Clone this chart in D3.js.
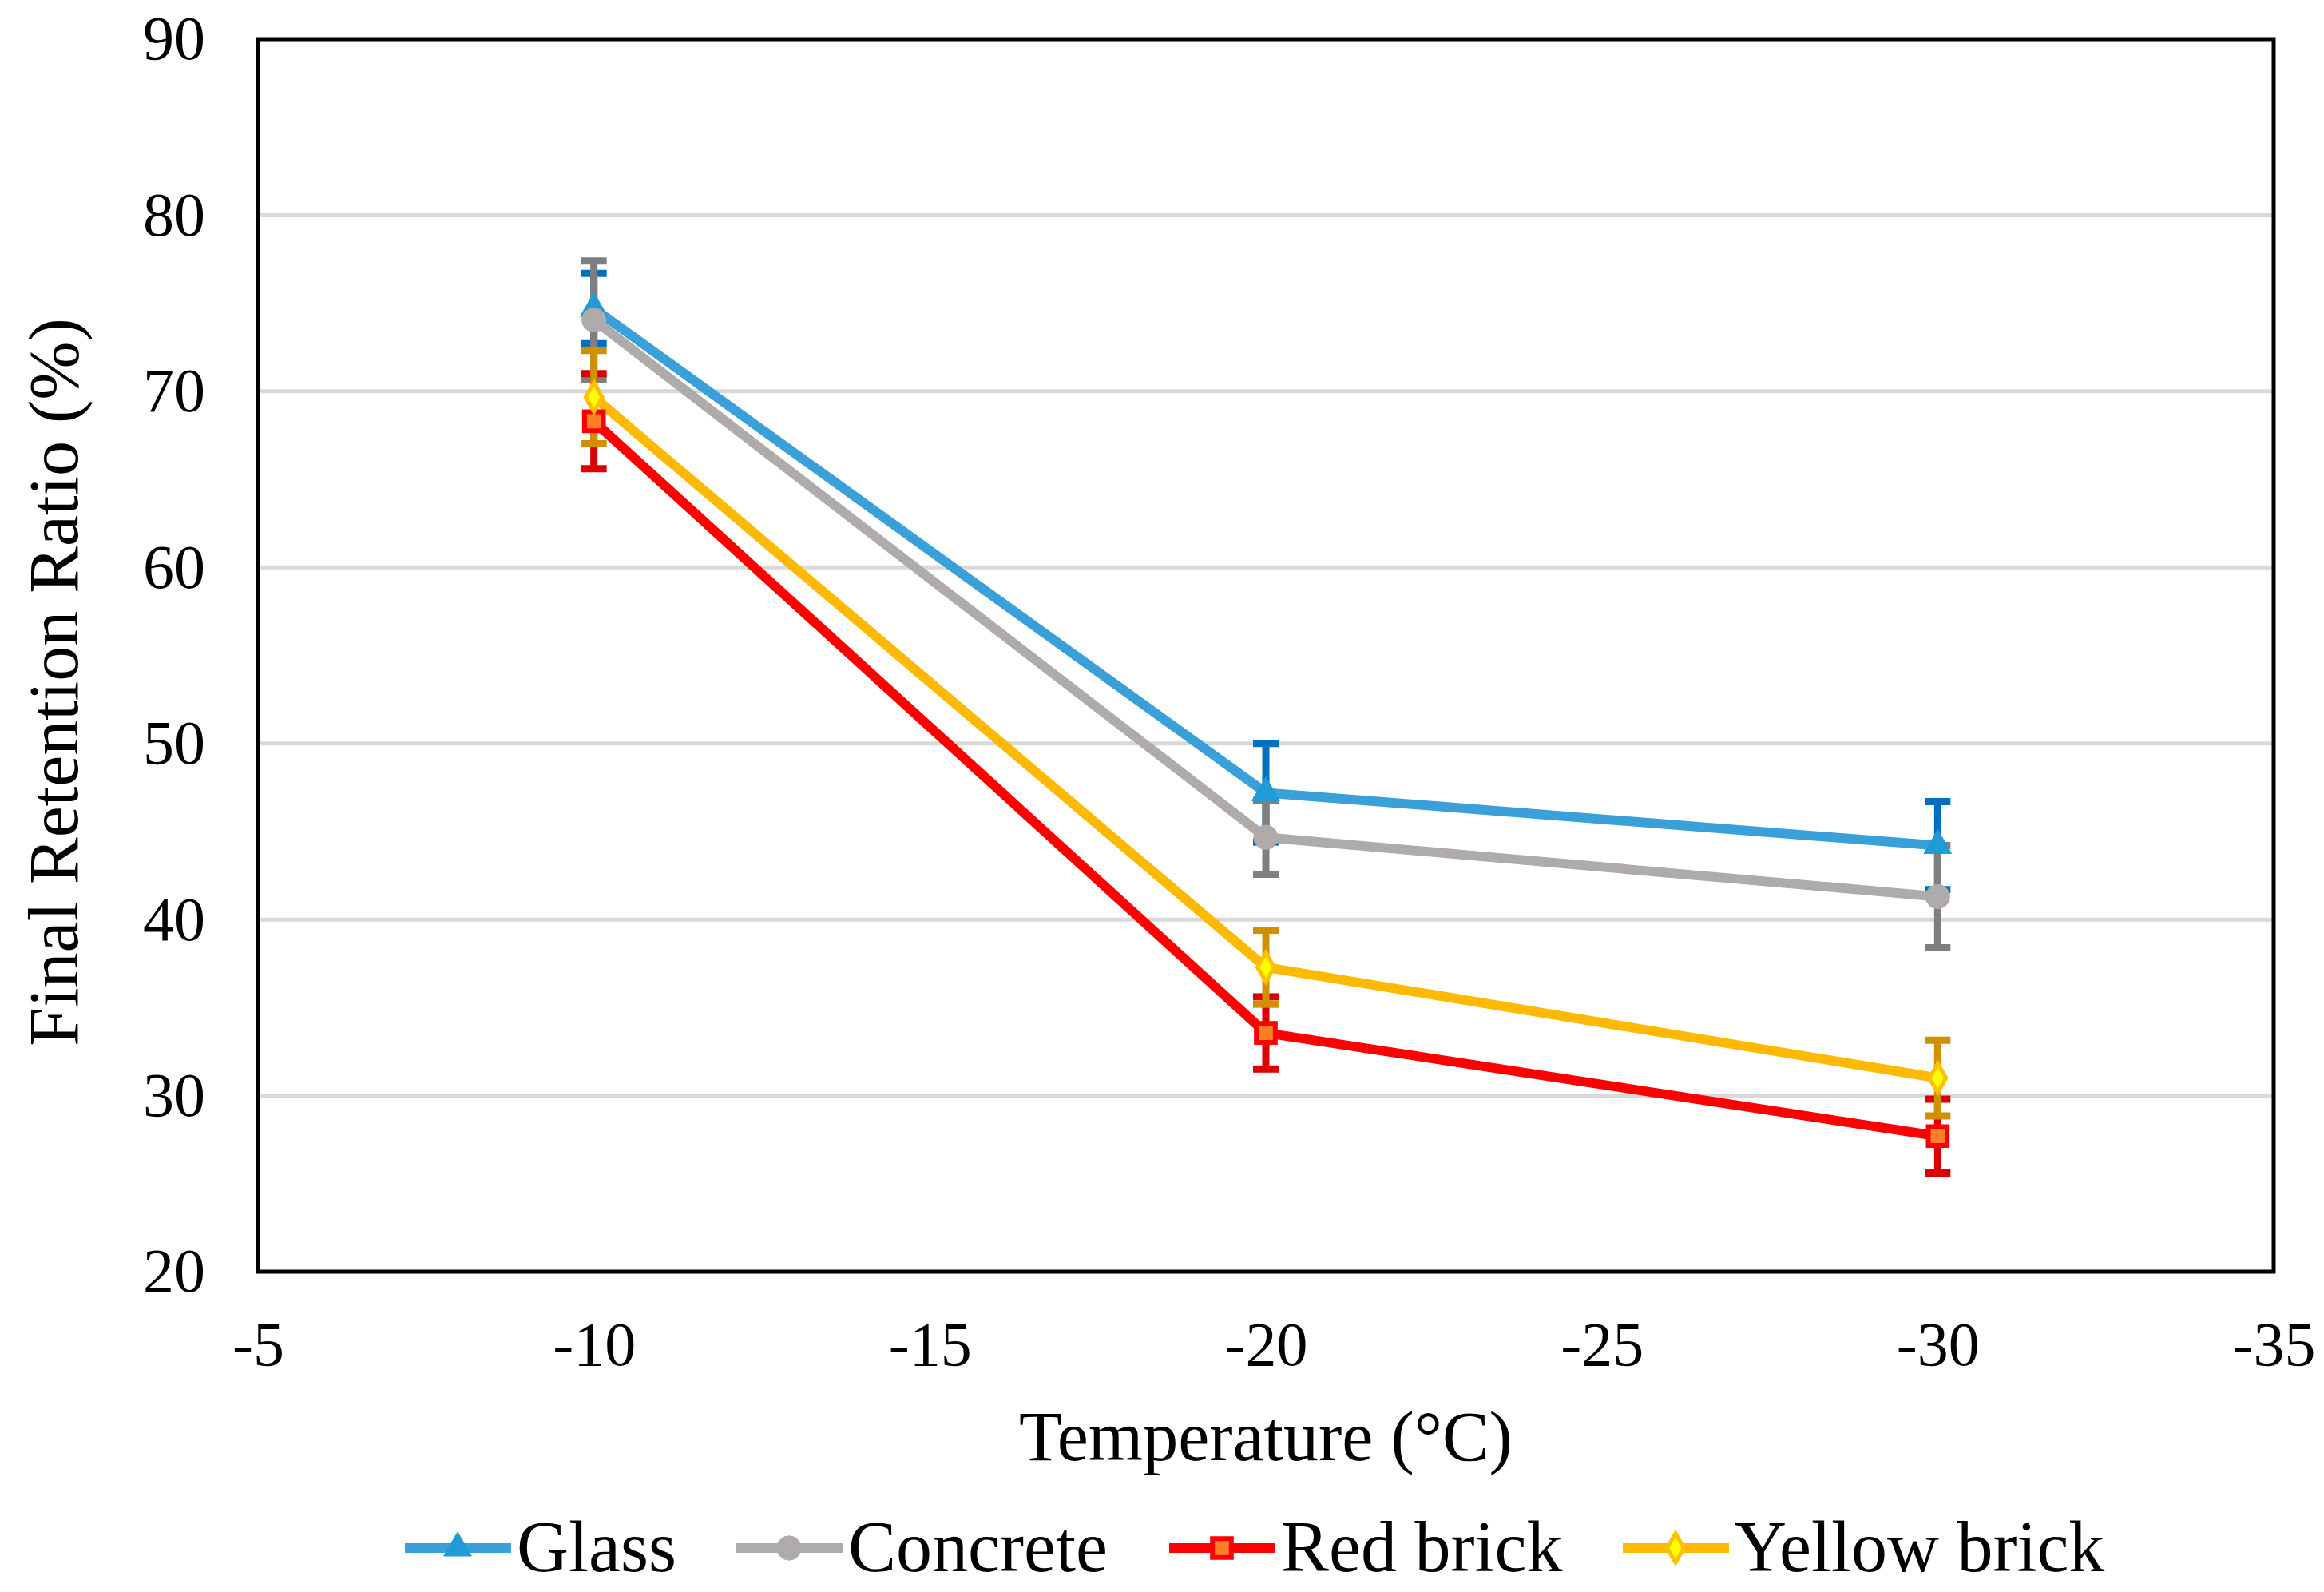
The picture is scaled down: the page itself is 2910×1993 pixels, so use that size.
<!DOCTYPE html>
<html>
<head>
<meta charset="utf-8">
<script src="https://cdn.jsdelivr.net/npm/d3@7"></script>
<style>
  body { margin: 0; background: #fff; }
  text { font-family: "Liberation Serif", "Times New Roman", serif; fill: #000; }
</style>
</head>
<body>
<div id="chart"></div>
<script>
// data
var temps = [-10, -20, -30];
var seriesNames = ["Glass", "Concrete", "Red brick", "Yellow brick"];
var glassVals = [74.7, 47.2, 44.2];
var glassErr = [2.0, 2.8, 2.5];
var concreteVals = [74.05, 44.67, 41.3];
var concreteErr = [3.35, 2.1, 2.9];
var redVals = [68.3, 33.56, 27.7];
var redErr = [2.7, 2.05, 2.1];
var yellowVals = [69.67, 37.29, 31.0];
var yellowErr = [2.65, 2.1, 2.15];
var xTicks = [-5, -10, -15, -20, -25, -30, -35];
var yTicks = [20, 30, 40, 50, 60, 70, 80, 90];

var areaWidth = 2910, areaHeight = 1993;
var plotLeft = 323, plotRight = 2847, plotTop = 49, plotBottom = 1592;

var series = [
    { name: seriesNames[0], vals: glassVals, err: glassErr, line: "#3AA0DA", errColor: "#0070C0", shape: "tri", fill: "#1F9BD7", stroke: "#1F9BD7" },
    { name: seriesNames[1], vals: concreteVals, err: concreteErr, line: "#AFABAB", errColor: "#7F7F7F", shape: "circle", fill: "#AFABAB", stroke: "#AFABAB" },
    { name: seriesNames[2], vals: redVals, err: redErr, line: "#FF0000", errColor: "#DD0000", shape: "square", fill: "#FF7F27", stroke: "#FF0000" },
    { name: seriesNames[3], vals: yellowVals, err: yellowErr, line: "#FFB900", errColor: "#D09000", shape: "diamond", fill: "#FFFF00", stroke: "#FFC000" }
];

var x = d3.scaleLinear().domain([-5, -35]).range([plotLeft, plotRight]);
var y = d3.scaleLinear().domain([20, 90]).range([plotBottom, plotTop]);

var svg = d3.select("#chart").append("svg")
    .attr("width", areaWidth).attr("height", areaHeight);

// gridlines
svg.append("g").selectAll("line")
    .data(yTicks.filter(function(d) { return d > 20 && d < 90; }))
    .enter().append("line")
    .attr("x1", plotLeft).attr("x2", plotRight)
    .attr("y1", function(d) { return y(d); })
    .attr("y2", function(d) { return y(d); })
    .style("stroke", "#D9D9D9").style("stroke-width", 5);

// axes (labels only)
var xAxis = svg.append("g")
    .attr("transform", "translate(0," + plotBottom + ")")
    .call(d3.axisBottom(x).tickValues(xTicks).tickSize(0).tickPadding(62)
        .tickFormat(function(d) { return String(d); }));
xAxis.select(".domain").remove();
xAxis.selectAll("text")
    .style("font-size", "78px")
    .style("font-family", "Liberation Serif")
    .attr("fill", "#000");

var yAxis = svg.append("g")
    .attr("transform", "translate(" + plotLeft + ",0)")
    .call(d3.axisLeft(y).tickValues(yTicks).tickSize(0).tickPadding(66)
        .tickFormat(function(d) { return String(d); }));
yAxis.select(".domain").remove();
yAxis.selectAll("text")
    .style("font-size", "78px")
    .style("font-family", "Liberation Serif")
    .attr("fill", "#000");

// plot border
svg.append("rect")
    .attr("x", plotLeft).attr("y", plotTop)
    .attr("width", plotRight - plotLeft).attr("height", plotBottom - plotTop)
    .style("fill", "none").style("stroke", "#000").style("stroke-width", 5);

// error bars
var capW = 16;
series.forEach(function(s) {
    var g = svg.append("g");
    temps.forEach(function(t, i) {
        var hi = y(s.vals[i] + s.err[i]), lo = y(s.vals[i] - s.err[i]), cx = x(t);
        g.append("line").attr("x1", cx).attr("x2", cx).attr("y1", hi).attr("y2", lo)
            .style("stroke", s.errColor).style("stroke-width", 9);
        g.append("line").attr("x1", cx - capW).attr("x2", cx + capW).attr("y1", hi).attr("y2", hi)
            .style("stroke", s.errColor).style("stroke-width", 9);
        g.append("line").attr("x1", cx - capW).attr("x2", cx + capW).attr("y1", lo).attr("y2", lo)
            .style("stroke", s.errColor).style("stroke-width", 9);
    });
});

// lines
var lineGen = d3.line()
    .x(function(d) { return x(d[0]); })
    .y(function(d) { return y(d[1]); });

series.forEach(function(s) {
    svg.append("path")
        .datum(temps.map(function(t, i) { return [t, s.vals[i]]; }))
        .attr("d", lineGen)
        .style("fill", "none").style("stroke", s.line)
        .style("stroke-width", 12).style("stroke-linejoin", "round");
});

// markers
function markerPath(shape) {
    if (shape == "tri") return d3.symbol().type(d3.symbolTriangle).size(520)();
    if (shape == "circle") return d3.symbol().type(d3.symbolCircle).size(720)();
    if (shape == "square") return d3.symbol().type(d3.symbolSquare).size(560)();
    return d3.symbol().type(d3.symbolDiamond).size(380)();
}
function markerStroke(shape) {
    if (shape == "square") return 6;
    if (shape == "diamond") return 5;
    return 1;
}

series.forEach(function(s) {
    svg.append("g").selectAll("path")
        .data(temps.map(function(t, i) { return [t, s.vals[i]]; }))
        .enter().append("path")
        .attr("d", markerPath(s.shape))
        .attr("transform", function(d) { return "translate(" + x(d[0]) + "," + y(d[1]) + ")"; })
        .style("fill", s.fill).style("stroke", s.stroke)
        .style("stroke-width", markerStroke(s.shape));
});

// axis titles
svg.append("text")
    .attr("x", (plotLeft + plotRight) / 2).attr("y", 1828)
    .attr("text-anchor", "middle")
    .style("font-size", "88px")
    .text("Temperature (°C)");

svg.append("text")
    .attr("transform", "translate(97,854) rotate(-90)")
    .attr("text-anchor", "middle")
    .style("font-size", "88px")
    .text("Final Retention Ratio (%)");

// legend
var legendX = [507, 922, 1464, 2032];
var legY = 1938;
series.forEach(function(s, i) {
    var lg = svg.append("g");
    lg.append("line")
        .attr("x1", legendX[i]).attr("x2", legendX[i] + 133)
        .attr("y1", legY).attr("y2", legY)
        .style("stroke", s.line).style("stroke-width", 12);
    lg.append("path")
        .attr("d", markerPath(s.shape))
        .attr("transform", "translate(" + (legendX[i] + 66) + "," + legY + ")")
        .style("fill", s.fill).style("stroke", s.stroke)
        .style("stroke-width", markerStroke(s.shape));
    lg.append("text")
        .attr("x", legendX[i] + 140).attr("y", 1967)
        .style("font-size", "90px")
        .text(s.name);
});
</script>
</body>
</html>
